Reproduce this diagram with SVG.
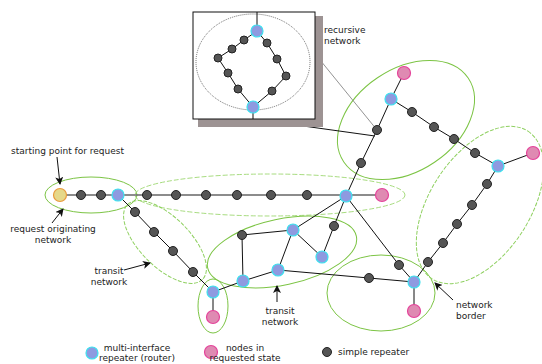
<svg xmlns="http://www.w3.org/2000/svg" width="542" height="364" viewBox="0 0 542 364">
<style>
.bg{fill:#fff}
.net{fill:none;stroke:#7cc444;stroke-width:1}
.netd{fill:none;stroke:#8fd060;stroke-width:1;stroke-dasharray:4 1.5}
.netl{fill:none;stroke:#a8dc80;stroke-width:1;stroke-dasharray:5 2}
.ln{stroke:#111;stroke-width:1;fill:none}
.main{stroke:#666;stroke-width:1.6;fill:none}
.zoom{stroke:#777;stroke-width:0.8;fill:none}
.rt{fill:#8e9ae0;stroke:#3fe0ee;stroke-width:1.2}
.pk{fill:#df8ab2;stroke:#e4439a;stroke-width:1.2}
.gr{fill:#555;stroke:#222;stroke-width:1}
.st{fill:#e6d889;stroke:#e89a3c;stroke-width:1.2}
.t{font-family:"DejaVu Sans",sans-serif;font-size:9px;fill:#222}
.c{text-anchor:middle}
.ar{stroke:#111;stroke-width:1;fill:none;marker-end:url(#ah)}
</style>
<defs>
<marker id="ah" markerWidth="8" markerHeight="8" refX="7" refY="4" orient="auto" markerUnits="userSpaceOnUse">
<path d="M0,0 L8,4 L0,8 L2,4 z" fill="#111"/>
</marker>
</defs>
<rect class="bg" x="0" y="0" width="542" height="364"/>

<g id="networks">
<ellipse id="net-origin" class="net" cx="91" cy="195" rx="46" ry="18"/>
<ellipse id="net-horizontal" class="netl" cx="270" cy="195" rx="135" ry="21"/>
<ellipse id="net-transit-left" class="netd" cx="165" cy="242" rx="53" ry="25" transform="rotate(45 165 242)"/>
<ellipse id="net-small" class="net" cx="213" cy="306" rx="15" ry="27"/>
<ellipse id="net-transit-center" class="net" cx="282" cy="252" rx="76" ry="33" transform="rotate(-12 282 252)"/>
<ellipse id="net-bottom-right" class="net" cx="381" cy="293" rx="54" ry="38"/>
<ellipse id="net-right" class="netd" cx="480" cy="205" rx="88" ry="50" transform="rotate(-57 480 205)"/>
<ellipse id="net-top" class="net" cx="406" cy="120" rx="75" ry="51" transform="rotate(-34 406 120)"/>
</g>

<g id="connectors">
<path class="main" d="M60,195 H382"/>
<path class="ln" d="M118,195 L135,212 L154,232 L173,251 L193,272 L213,292 L213,317"/>
<path class="ln" d="M213,292 L243,281 L278,270 L369,278 L414,282 L414,311"/>
<path class="ln" d="M243,281 L242,235 L293,230 L346,196"/>
<path class="ln" d="M293,230 L278,270 M293,230 L322,257 L334,226 L346,196"/>
<path class="ln" d="M346,196 L399,265 L414,282"/>
<path class="ln" d="M414,282 L428,262 L443,243 L457,224 L472,205 L487,184 L498,166 L533,153"/>
<path class="ln" d="M346,196 L361,163 L377,130 L391,99 L404,73"/>
<path class="ln" d="M391,99 L412,112 L434,127 L454,139 L475,153 L498,166"/>
<path class="zoom" d="M303,39 L377,130"/>
<path class="ln" d="M253,113 V119 L375,136"/>
<path class="ar" d="M57,157 L60,184"/>
<path class="ar" d="M52,223 L63,209"/>
<path class="ar" d="M124,270 L150,263"/>
<path class="ar" d="M277,302 L277,286"/>
<path class="ar" d="M453,300 L435,283"/>
</g>

<g id="inset">
<rect x="198" y="16" width="125" height="111" fill="#9d9393"/>
<rect x="193" y="12" width="122" height="107" fill="#fff" stroke="#111" stroke-width="1"/>
<ellipse cx="253" cy="62" rx="57" ry="48" fill="none" stroke="#333" stroke-width="0.7" stroke-dasharray="1 1"/>
<path class="ln" d="M257,12 V31 L244,40 L232,49 L218,58 L228,73 L238,89 L253,107 V119"/>
<path class="ln" d="M257,31 L267,43 L277,59 L286,76 L272,91 L253,107"/>
<circle class="gr" cx="244" cy="40" r="4"/>
<circle class="gr" cx="232" cy="49" r="4"/>
<circle class="gr" cx="218" cy="58" r="4"/>
<circle class="gr" cx="228" cy="73" r="4"/>
<circle class="gr" cx="238" cy="89" r="4"/>
<circle class="gr" cx="267" cy="43" r="4"/>
<circle class="gr" cx="277" cy="59" r="4"/>
<circle class="gr" cx="286" cy="76" r="4"/>
<circle class="gr" cx="272" cy="91" r="4"/>
<circle class="rt" cx="257" cy="31" r="6"/>
<circle class="rt" cx="253" cy="107" r="6"/>
</g>

<g id="nodes">
<g id="start"><circle class="st" cx="60" cy="195" r="6.5"/></g>
<g id="g1"><circle class="gr" cx="81" cy="195" r="4.5"/></g>
<g id="g2"><circle class="gr" cx="101" cy="195" r="4.5"/></g>
<g id="r1"><circle class="rt" cx="118" cy="195" r="6"/></g>
<g id="g3"><circle class="gr" cx="147" cy="195" r="4.5"/></g>
<g id="g4"><circle class="gr" cx="176" cy="195" r="4.5"/></g>
<g id="g5"><circle class="gr" cx="206" cy="195" r="4.5"/></g>
<g id="g6"><circle class="gr" cx="237" cy="195" r="4.5"/></g>
<g id="g7"><circle class="gr" cx="271" cy="195" r="4.5"/></g>
<g id="g8"><circle class="gr" cx="307" cy="195" r="4.5"/></g>
<g id="r2"><circle class="rt" cx="346" cy="196" r="6"/></g>
<g id="p1"><circle class="pk" cx="382" cy="195" r="6.5"/></g>
<g id="g9"><circle class="gr" cx="135" cy="212" r="4.5"/></g>
<g id="g10"><circle class="gr" cx="154" cy="232" r="4.5"/></g>
<g id="g11"><circle class="gr" cx="173" cy="251" r="4.5"/></g>
<g id="g12"><circle class="gr" cx="193" cy="272" r="4.5"/></g>
<g id="r3"><circle class="rt" cx="213" cy="292" r="6"/></g>
<g id="p2"><circle class="pk" cx="213" cy="317" r="6.5"/></g>
<g id="r4"><circle class="rt" cx="243" cy="281" r="6"/></g>
<g id="g13"><circle class="gr" cx="242" cy="235" r="4.5"/></g>
<g id="r5"><circle class="rt" cx="293" cy="230" r="6"/></g>
<g id="r6"><circle class="rt" cx="278" cy="270" r="6"/></g>
<g id="r7"><circle class="rt" cx="322" cy="257" r="6"/></g>
<g id="g14"><circle class="gr" cx="334" cy="226" r="4.5"/></g>
<g id="g15"><circle class="gr" cx="369" cy="278" r="4.5"/></g>
<g id="g16"><circle class="gr" cx="399" cy="265" r="4.5"/></g>
<g id="r8"><circle class="rt" cx="414" cy="282" r="6"/></g>
<g id="p3"><circle class="pk" cx="414" cy="311" r="6.5"/></g>
<g id="g17"><circle class="gr" cx="428" cy="262" r="4.5"/></g>
<g id="g18"><circle class="gr" cx="443" cy="243" r="4.5"/></g>
<g id="g19"><circle class="gr" cx="457" cy="224" r="4.5"/></g>
<g id="g20"><circle class="gr" cx="472" cy="205" r="4.5"/></g>
<g id="g21"><circle class="gr" cx="487" cy="184" r="4.5"/></g>
<g id="r9"><circle class="rt" cx="498" cy="166" r="6"/></g>
<g id="p4"><circle class="pk" cx="533" cy="153" r="6.5"/></g>
<g id="g22"><circle class="gr" cx="361" cy="163" r="4.5"/></g>
<g id="g23"><circle class="gr" cx="377" cy="130" r="4.5"/></g>
<g id="r10"><circle class="rt" cx="391" cy="99" r="6"/></g>
<g id="p5"><circle class="pk" cx="404" cy="73" r="6.5"/></g>
<g id="g24"><circle class="gr" cx="412" cy="112" r="4.5"/></g>
<g id="g25"><circle class="gr" cx="434" cy="127" r="4.5"/></g>
<g id="g26"><circle class="gr" cx="454" cy="139" r="4.5"/></g>
<g id="g27"><circle class="gr" cx="475" cy="153" r="4.5"/></g>
</g>

<g id="labels">
<text class="t" x="11" y="154">starting point for request</text>
<text class="t c" x="53" y="232">request originating</text>
<text class="t c" x="53" y="243">network</text>
<text class="t c" x="109" y="274">transit</text>
<text class="t c" x="109" y="285">network</text>
<text class="t c" x="280" y="314">transit</text>
<text class="t c" x="280" y="325">network</text>
<text class="t" x="456" y="308">network</text>
<text class="t" x="456" y="319">border</text>
<text class="t" x="324" y="33">recursive</text>
<text class="t" x="324" y="44">network</text>
</g>

<g id="legend">
<circle class="rt" cx="92" cy="353" r="6"/>
<text class="t c" x="137" y="351">multi-interface</text>
<text class="t c" x="137" y="361">repeater (router)</text>
<circle class="pk" cx="211" cy="352" r="6.5"/>
<text class="t c" x="245" y="351">nodes in</text>
<text class="t c" x="245" y="361">requested state</text>
<circle class="gr" cx="327" cy="352" r="4.5"/>
<text class="t" x="338" y="355">simple repeater</text>
</g>
</svg>
